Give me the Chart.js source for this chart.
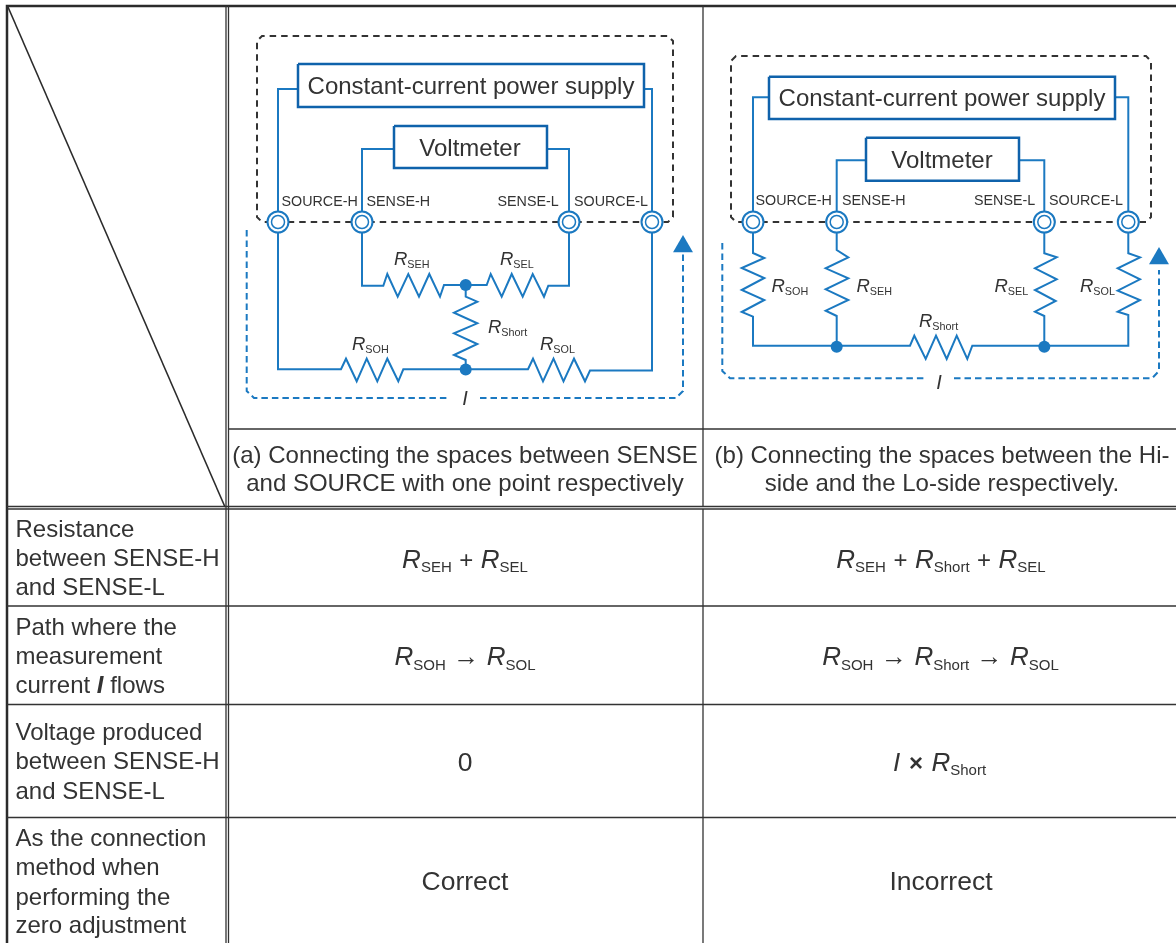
<!DOCTYPE html>
<html>
<head>
<meta charset="utf-8">
<title>Zero adjustment connection methods</title>
<script src="https://cdn.jsdelivr.net/npm/chart.js@4"></script>
<style>
    html, body { margin: 0; padding: 0; background: #fff; }
    canvas { display: block; }
</style>
</head>
<body>
<canvas id="circuitChart" width="1176" height="943"></canvas>
<script>
// Table rules
const thickRules = [[[7, 943], [7, 6], [1176, 6]]];
const thinRules = [
    [[226, 6], [226, 943]], [[228.5, 6], [228.5, 943]], [[703, 6], [703, 506]],
    [[228, 429], [1176, 429]],
    [[7, 506.5], [1176, 506.5]], [[7, 509], [1176, 509]], [[703, 509], [703, 943]],
    [[7, 606], [1176, 606]], [[7, 704.5], [1176, 704.5]], [[7, 817.5], [1176, 817.5]]
];
const diagonal = [[8, 7], [225, 507]];

// Circuit (a)
const enclosureA = [[652, 222], [668, 222], [673, 217], [673, 41], [668, 36], [262, 36], [257, 41], [257, 217], [262, 222], [652, 222]];
const currentLoopA = [[246.7, 230], [246.7, 391], [254, 398], [447, 398]];
const currentLoopA2 = [[480, 398], [676, 398], [683, 391], [683, 253]];
const sourceBoxA = [[298, 64], [644, 64], [644, 107], [298, 107], [298, 64]];
const voltBoxA = [[394, 126], [547, 126], [547, 168], [394, 168], [394, 126]];
const wiresA = [
    [[298, 89], [278, 89], [278, 369.3], [341, 369.3], [346, 358.7], [356.7, 381.3], [366.7, 358.7], [377.3, 381.3], [387.3, 358.7], [398.3, 381.3], [403.3, 369.3],
     [465.7, 369.3], [528, 369.3], [533, 358.7], [543, 381.3], [553.5, 358.7], [563.5, 381.3], [574, 358.7], [585, 381.3], [590, 370.5], [652, 370.5], [652, 89], [644, 89]],
    [[394, 149], [362, 149], [362, 285.7], [383.3, 285.7], [387.3, 274], [397.7, 296.7], [408.3, 274], [419, 296.7], [429.3, 274], [440, 296.7], [444, 285],
     [486.7, 285], [490.7, 274], [501.7, 296.7], [511.7, 274], [522.7, 296.7], [532.7, 274], [544, 296.7], [548.3, 285.7], [569, 285.7], [569, 149], [547, 149]],
    [[465.7, 285], [465.7, 296.7], [477.3, 301.7], [454, 312.7], [477.3, 323.3], [454, 333.3], [477.3, 344], [454, 355], [465.7, 360], [465.7, 370]]
];
const terminalsA = [[278, 222], [362, 222], [569, 222], [652, 222]];
const nodesA = [[465.7, 285], [465.7, 369.5]];
const arrowA = [[683, 246.5]];

// Circuit (b)
const enclosureB = [[1128, 222], [1146, 222], [1151, 217], [1151, 61], [1146, 56], [736, 56], [731, 61], [731, 217], [736, 222], [1128, 222]];
const currentLoopB = [[722.3, 243], [722.3, 371], [730, 378.3], [925, 378.3]];
const currentLoopB2 = [[954, 378.3], [1152, 378.3], [1159, 371], [1159, 270]];
const sourceBoxB = [[769, 76.7], [1115, 76.7], [1115, 119], [769, 119], [769, 76.7]];
const voltBoxB = [[866, 137.7], [1019, 137.7], [1019, 180.7], [866, 180.7], [866, 137.7]];
const wiresB = [
    [[769, 97.3], [753, 97.3], [753, 253], [764.3, 258], [741.7, 268], [764.3, 278], [741.7, 290], [764.3, 300], [741.7, 312], [753, 316.7], [753, 345.7],
     [910, 345.7], [914.3, 335.7], [925.7, 359], [936, 335.7], [946.7, 359], [956.7, 335.7], [967.3, 359], [972.3, 345.7], [1128.3, 345.7], [1128.3, 315], [1117.7, 311.7], [1140, 300], [1117.7, 290.7], [1140, 279.3], [1117.7, 268.3], [1140, 257.3], [1128.3, 253.3], [1128.3, 97.3], [1115, 97.3]],
    [[866, 160.3], [836.7, 160.3], [836.7, 250], [848.3, 257.3], [825.7, 268.3], [848.3, 278.3], [825.7, 289.3], [848.3, 300], [825.7, 310.7], [836.7, 316], [836.7, 346.7]],
    [[1019, 160.3], [1044.3, 160.3], [1044.3, 253.3], [1056.7, 257.3], [1035, 268.3], [1056.7, 279.3], [1035, 290], [1055.7, 301], [1035, 311.7], [1044.3, 316], [1044.3, 346.7]]
];
const terminalsB = [[753, 222], [836.7, 222], [1044.3, 222], [1128.3, 222]];
const nodesB = [[836.7, 346.7], [1044.3, 346.7]];
const arrowB = [[1159, 258.5]];

// Text: row labels and table cells
const rowLabels = [
    [15.5, 536.7, 'Resistance'], [15.5, 565.7, 'between SENSE-H'], [15.5, 594.5, 'and SENSE-L'],
    [15.5, 635, 'Path where the'], [15.5, 664.3, 'measurement'],
    [15.5, 740, 'Voltage produced'], [15.5, 769, 'between SENSE-H'], [15.5, 799, 'and SENSE-L'],
    [15.5, 846, 'As the connection'], [15.5, 875, 'method when'], [15.5, 905, 'performing the'], [15.5, 933, 'zero adjustment']
];
const captionLines = [
    [465, 463, '(a) Connecting the spaces between SENSE'], [465, 491, 'and SOURCE with one point respectively'],
    [942, 463, '(b) Connecting the spaces between the Hi-'], [942, 491, 'side and the Lo-side respectively.']
];
const resultCells = [[465, 890, 'Correct'], [941, 890, 'Incorrect'], [465, 771, '0']];
const boxTitles = [
    [471, 94, 'Constant-current power supply'], [470, 156, 'Voltmeter'],
    [942, 106, 'Constant-current power supply'], [942, 168, 'Voltmeter']
];
const terminalLabels = [
    [281.5, 206, 'SOURCE-H'], [366.5, 206, 'SENSE-H'], [497.5, 206, 'SENSE-L'], [574, 206, 'SOURCE-L'],
    [755.5, 205, 'SOURCE-H'], [842, 205, 'SENSE-H'], [974, 205, 'SENSE-L'], [1049, 205, 'SOURCE-L']
];
const resistorLabels = [
    [394, 265, 'SEH'], [500, 265, 'SEL'], [488, 333, 'Short'], [352, 350, 'SOH'], [540, 350, 'SOL'],
    [771.5, 291.5, 'SOH'], [856.5, 291.5, 'SEH'], [994.5, 291.5, 'SEL'], [1080, 291.5, 'SOL'], [919, 327, 'Short']
];
const currentLabels = [[465, 405], [939, 389]];
const formulas = [
    [465, 567.5, ['SEH', '+', 'SEL']],
    [941, 567.5, ['SEH', '+', 'Short', '+', 'SEL']],
    [465, 665, ['SOH', '\u2192', 'SOL']],
    [940.5, 665, ['SOH', '\u2192', 'Short', '\u2192', 'SOL']]
];

const FONT = '"Liberation Sans", Arial, sans-serif';
const INK = '#333333';
const WIRE = '#1b79c1';
const BOX = '#0f62ab';

function pts(list) {
    return list.map(function(p) { return { x: p[0], y: p[1] }; });
}

function lineSet(list, color, width, dash, order) {
    return {
        data: pts(list), showLine: true, borderColor: color, borderWidth: width,
        borderDash: dash || [], pointRadius: 0, order: order, clip: false,
        borderJoinStyle: 'miter', tension: 0
    };
}

function pointSet(list, radius, fill, stroke, width, style, order) {
    return {
        data: pts(list), showLine: false, pointRadius: radius, pointStyle: style,
        pointBackgroundColor: fill, pointBorderColor: stroke, pointBorderWidth: width,
        order: order, clip: false
    };
}

function drawRuns(ctx, x, y, keys) {
    // lay out R + subscript runs so the whole formula is centred on x
    const parts = [];
    let total = 0;
    keys.forEach(function(k) {
        if (k === '+' || k === '\u2192') {
            const size = k === '+' ? 24 : 26;
            ctx.font = size + 'px ' + FONT;
            parts.push({ t: k, font: ctx.font, dy: 0, w: ctx.measureText(k).width + 15, pad: 7.5 });
        } else {
            ctx.font = 'italic 26px ' + FONT;
            parts.push({ t: 'R', font: ctx.font, dy: 0, w: ctx.measureText('R').width, pad: 0 });
            ctx.font = '15px ' + FONT;
            parts.push({ t: k, font: ctx.font, dy: 4.5, w: ctx.measureText(k).width, pad: 0 });
        }
    });
    parts.forEach(function(p) { total += p.w; });
    let cx = x - total / 2;
    ctx.textAlign = 'left';
    parts.forEach(function(p) {
        ctx.font = p.font;
        ctx.fillText(p.t, cx + p.pad, y + p.dy);
        cx += p.w;
    });
}

const textPlugin = {
    id: 'tableText',
    afterDraw: function(chart) {
        const ctx = chart.ctx;
        const X = chart.scales.x, Y = chart.scales.y;
        ctx.save();
        ctx.fillStyle = INK;
        ctx.textBaseline = 'alphabetic';

        function put(list, font, align) {
            ctx.font = font;
            ctx.textAlign = align;
            list.forEach(function(t) {
                ctx.fillText(t[2], X.getPixelForValue(t[0]), Y.getPixelForValue(t[1]));
            });
        }

        put(rowLabels, '24px ' + FONT, 'left');
        put(captionLines, '24px ' + FONT, 'center');
        put(resultCells, '26.5px ' + FONT, 'center');
        put(boxTitles, '24px ' + FONT, 'center');
        put(terminalLabels, '14.3px ' + FONT, 'left');

        // 'current I flows' has the italic symbol in the middle
        ctx.font = '24px ' + FONT;
        ctx.textAlign = 'left';
        ctx.fillText('current ', 15.5, 693.3);
        let w = ctx.measureText('current ').width;
        ctx.font = 'italic bold 24px ' + FONT;
        ctx.fillText('I', 15.5 + w, 693.3);
        w += ctx.measureText('I').width;
        ctx.font = '24px ' + FONT;
        ctx.fillText(' flows', 15.5 + w, 693.3);

        resistorLabels.forEach(function(t) {
            const px = X.getPixelForValue(t[0]), py = Y.getPixelForValue(t[1]);
            ctx.textAlign = 'left';
            ctx.font = 'italic 18.5px ' + FONT;
            ctx.fillText('R', px, py);
            const rw = ctx.measureText('R').width;
            ctx.font = '10.8px ' + FONT;
            ctx.fillText(t[2], px + rw, py + 3);
        });

        ctx.font = 'italic 20px ' + FONT;
        ctx.textAlign = 'center';
        currentLabels.forEach(function(t) {
            ctx.fillText('I', X.getPixelForValue(t[0]), Y.getPixelForValue(t[1]));
        });

        formulas.forEach(function(f) {
            drawRuns(ctx, X.getPixelForValue(f[0]), Y.getPixelForValue(f[1]), f[2]);
        });

        // I x RShort
        ctx.textAlign = 'left';
        ctx.font = 'italic 26px ' + FONT;
        ctx.fillText('I', 893, 770.7);
        ctx.font = 'bold 24px ' + FONT;
        ctx.fillText('\u00d7', 909, 770.7);
        ctx.font = 'italic 26px ' + FONT;
        ctx.fillText('R', 931.5, 770.7);
        const rw2 = ctx.measureText('R').width;
        ctx.font = '15px ' + FONT;
        ctx.fillText('Short', 931.5 + rw2, 775);

        ctx.restore();
    }
};

const datasets = [];
// markers first so they sit on top of the wires
datasets.push(pointSet(nodesA.concat(nodesB), 6, WIRE, WIRE, 0, 'circle', 0));
datasets.push(pointSet(arrowA.concat(arrowB), 11.5, WIRE, WIRE, 0, 'triangle', 0));
datasets.push(pointSet(terminalsA.concat(terminalsB), 6.5, '#ffffff', WIRE, 1.5, 'circle', 0));
datasets.push(pointSet(terminalsA.concat(terminalsB), 10.5, '#ffffff', WIRE, 2, 'circle', 1));
[sourceBoxA, voltBoxA, sourceBoxB, voltBoxB].forEach(function(b) {
    datasets.push(lineSet(b, BOX, 2.5, null, 2));
});
wiresA.concat(wiresB).forEach(function(w) {
    datasets.push(lineSet(w, WIRE, 2, null, 3));
});
[enclosureA, enclosureB].forEach(function(e) {
    datasets.push(lineSet(e, '#333333', 2, [6.5, 5], 4));
});
[currentLoopA, currentLoopA2, currentLoopB, currentLoopB2].forEach(function(l) {
    datasets.push(lineSet(l, WIRE, 2, [6.5, 4], 4));
});
thinRules.forEach(function(r) {
    datasets.push(lineSet(r, '#333333', 1.3, null, 5));
});
thickRules.forEach(function(r) {
    datasets.push(lineSet(r, '#2b2b2b', 2.5, null, 5));
});
datasets.push(lineSet(diagonal, '#2b2b2b', 1.6, null, 5));

new Chart(document.getElementById('circuitChart'), {
    type: 'scatter',
    data: { datasets: datasets },
    options: {
        responsive: false,
        animation: false,
        layout: { padding: 0, autoPadding: false },
        plugins: { legend: { display: false }, tooltip: { enabled: false } },
        scales: {
            x: { type: 'linear', min: 0, max: 1176, display: false },
            y: { type: 'linear', min: 0, max: 943, reverse: true, display: false }
        }
    },
    plugins: [textPlugin]
});
</script>
</body>
</html>
